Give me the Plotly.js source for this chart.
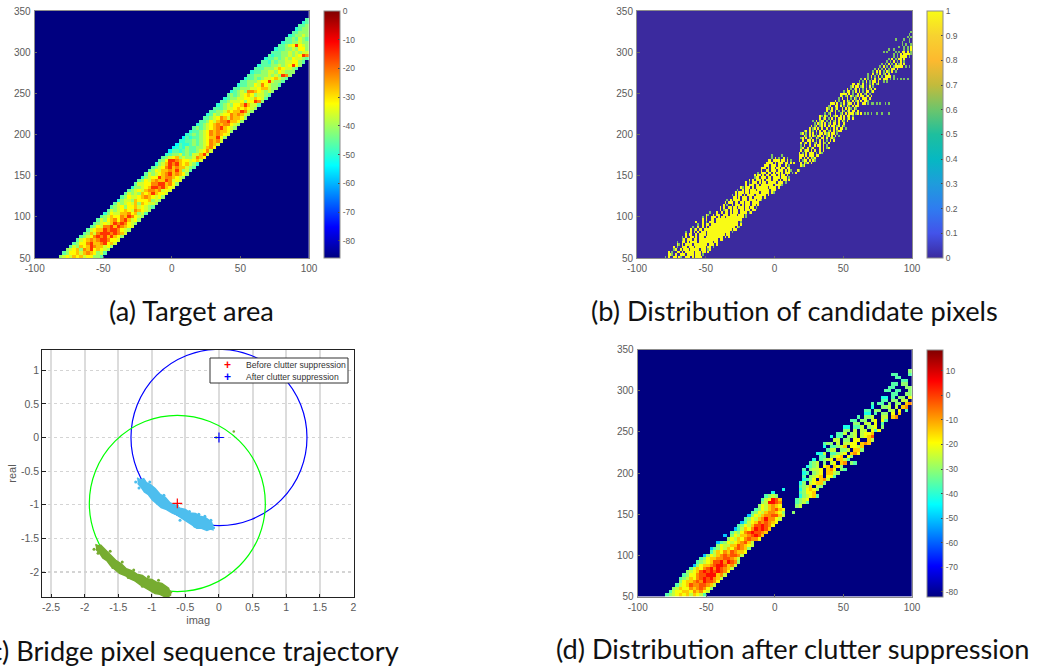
<!DOCTYPE html>
<html><head><meta charset="utf-8">
<script src="https://cdn.plot.ly/plotly-3.0.1.min.js"></script>
<style>html,body{margin:0;padding:0;background:#fff;overflow:hidden}#chart{width:1037px;height:669px}
.heatmaplayer{filter:blur(.55px)}</style>
</head><body><div id="chart"></div>
<script>
// ---------- Data ----------
// Each row: "xStart:cells" segments. Rows run upward from y=50 (4 units per row in a and d, 3 in b).
const levelsA = [-60,-54,-50,-46,-41,-36,-32,-27,-22,-15];
const rowsA = [
"-82.5:4565767566443","-80:3466757876453","-77.5:4567487967654","-75:3547679877564",
"-72.5:3466897789675","-70:3567878998665","-67.5:3456898979764","-65:3475899989875",
"-62.5:3567798998654","-60:3465889798765","-57.5:3456579898654","-55:3546786897564",
"-52.5:3457668798654","-50:2465577867453","-47.5:3545676587654","-45:3456466756543",
"-42.5:3545657476554","-40:2455476667454","-37.5:3465567876564","-35:3545476797665",
"-32.5:3456578878565","-30:2445679989765","-27.5:3556688997864","-25:3465787798565",
"-22.5:2456697887654","-20:3545678978764","-17.5:3465778797453","-15:3456897877543",
"-12.5:2457989767542","-10:3469987665675","-7.5:3456745445876","-5:2344534355795",
"-2.5:1332343345685","0:1232433445786","2.5:1322343456875","5:2233434568785",
"7.5:1323345677964","10:2343456878765","12.5:2334568787764","15:3434567897654",
"17.5:2345678788654","20:3346578897764","22.5:3345687587764","25:2354566878754",
"27.5:3344576779854","30:3334556767654","32.5:2345466797553","35:3345556466984",
"37.5:2344556657653","40:3434567645543","42.5:2345488765454","45:3344455677544",
"47.5:2334465865443","50:3344456695443","52.5:2334345567543","55:3344445454984",
"57.5:2334455465444","60:3334445765543","62.5:2333445456964","65:3324344556643",
"67.5:2334345465543","70:3233445456984","72.5:333445454553","75:23344546644",
"77.5:3345696544","80:233445444","82.5:33435434","85:2344543",
"87.5:334443","90:23443","92.5:3344","95:234","97.5:33"];
const levelsD = [-50,-42,-36,-30,-25,-20,-14,-8,-2,5];
const rowsD = [
"-80:234565646542","-77.5:245566576754","-75:346557678753","-72.5:245687788764",
"-70:356678798875","-70:2346578989764","-67.5:2355788999674","-65:3456898989875",
"-62.5:2465789798764","-60:0356678998674","-57.5:2345688979873","-55:235667788764",
"-52.5:035467878874","-50:.24657687665","-47.5:023546578763","-45:.35446687654",
"-42.5:02354567864","-37.5:.3546578775","-37.5:0.3546678986","-32.5:24357898876",
"-30:02465798986","-27.5:23546889875","-25:02456878765","-22.5:23546797754",
"-20:03546778864","-17.5:2354677653 12.5:3","-15:235467865","-12.5:3546765 15:34",
"-10:349987 15:2342","-10:245986 15:2345","-7.5:2343 17.5:134562","-2.5:1 17.5:23556",
"5:1 17.5:135653","17.5:2346.43","17.5:13.45663","20:1235.674",
"20:2.3456.552","20:12.345.6643","20:2.3445.675.32","22.5:1234.56.653",
"25:234.3.45.67.32","27.5:1.2345.6642","27.5:..22.3456.53","30:114.22345.675",
"32.5:..244.334.663","32.5:.1.22346.5546","35:233.4.4455.676","37.5:..44.33.55..64",
"40:1.22.334.4568","42.5:.224.34.4556","45:..33.4.44.525","50:11.224.345.3",
"52.5:..33.44.5.2","55:22.33.45.52","60:2.334..44.67","62.5:.11.2.33.5.6",
"65:22.33..34.5.2","67.5:.1..334.4.67.2","70:2.22.3.33.675","72.5:..22.33.44.2",
"77.5:11.2.33.54","82.5:.22..33.78","80:22.22..3.44","80:.22...33",
"85:22.33","90:.22.22","85:.22....22","85:22...22","97.5:33"];
// '#' = 1, '+' = partly covered pixel, '.' = 0
const rowsB = [
"-80:+.#..##.#+..###.#.####","-79:.##+.#..###.####.###.+","-77:#.+..##.#.#####.###.##.#","-75:.+#..#.###.#####.###.+#",
"-74:#.+..###.###.######.##.+","-72:.#+.#.####.########.###.#","-71:+..##.#.####.########.##.","-69:.+#.###.##.###########.##.",
"-68:+.#..##.#.###.##########.#.#","-66:.#.##..#.####.##########.##","-65:+..#.#.#.###.#############.+","-62:.#.+#.##.################.##",
"-60:+..#..#.#.###############.#+","-58:.+..#.##.################.#","-57:#...#.+.###.#############.+","-55:..#.#..##.###############.",
"-53:+.#..###.#.##.##########.+","-51:.#+..#.##..###.####.###.+","-47:+...#..#.##.#.###.####.+#","-42:..#.+##.#.###.##.###.##",
"-41:.#.#..##.##.###.##.##.+","-38:#.+..#.###.#.###.##.#","-37:.#.###.##.##.###.####","-35:+.#.####.###.####.##+",
"-33:..##.#.###.##.#####.#","-31:+.#.##.#.####.######.#","-30:.#.###.##.#####.#####.#+","-28:+..#.##.###.#######.###",
"-26:.#+.###.#.#######.####.#","-24:..#.###.##.#######.####+","-21:#.+.###.#.##.#####.###.+","-20:.#.#.###.#.###.###.#.##.#",
"-18:..+##.###.##.####.###.+","-16:.#.##.#.##.###.#.##.#","-13:+.###.##.#.##.#.###.+ 13:+.#","-11:.#..##.###.###.#.#+ 16:#+",
"-10:###.#.##.##.##.##","-9:.###.###.##..#.+ 19:#+#","-8:.####.#.###.##.#.# 18:.#.#+#.#","-7:..##.####.##.#.+ 17:#.+##.#.#+",
"-5:..+.#.+..#.+ 18:##.#.#.#+#.","-3:+.....+ 18:###.#.###.##",
"18:#.+.#.###.+.#+","18:.#.+##.#.#..#.#","19:+#..#.+#...#.#.+#","18:.+.#..#..#.##.#.+",
"19:#.+#.#..+#.#.#+.#","19:.#..##.#.+.#.#.+.#.#","19:+#.#.+#..#+.##.#.+#+","20:.#+.#.#+.##.#.+#.#.#.+",
"19:+#.+.#.#.+.##.#+#.##.+","21:+#.#.+.#.#.##.+#.#.+##","24:.#.+#.#.#..#.+.#.#.##.+","26:#.+#.+#.#.#.##.+#.#+",
"27:.+.#+#.#.+#.##.#..#","28:+.#.+##.+.#.+#.#.#+.#","31:.#.+#.+.#.#.##.#.+#.#","33:#+.#+.#.+##.#.#.##.+",
"35:.+.+#..#..+#.#.###.+#.#.+.+.+..+..+...+","37:#.+#.#.+.#+.+#.##.#..","36:.#+.#.+#..#.#.#+.#+","39:+#..##.#.+.#+.#.##",
"40:###.#.+.#.+##.#.#..##.+.++.+.+..+.+","43:.#.+..#.#+.#.+#.#.##+","46:+.#..#.+.#+.#.###.#","46:.#+.+#.#+.+#.##.+#.#",
"47:####.#.+..#.#.+#.+","49:.+.##.+.#.#.+.##.+#",
"52:#.+.+#.#.+.#.+#.#","54:.+#.##.+#.+.#.+","56:##.#+.#.+.+.#.+#","60:.+.+.#.+.##.#..+.+",
"63:+.#.+.+.#.+#.###.+.+.+.+.+.+","66:.+.#.+.#.+.####.+","68:+..#.+.#.+#.#","70:.+.#.#.+.#+.#.+",
"72:+.#.+.#.+.##.#","75:.+.#.+.#.+#####.+.+.+.+.+","78:+.+.#.+.#.+#.#","80:.+.+.#.+.#.+",
"83:+.#.+.##.#","85:.+.+.####.+.#","86:+.+.#.####+.+","78:.+.+....+.+.##.#.+",
"82:+..+.....+.+.#.+","89:.+..+.+.#+","92:+.+..+.+","90:..+...+.+",
"88:+....+..+","95:.+.+","98:+","99:+"];
const levelPartial = 0.62;

// Trajectory clusters: outline (imag, real)
const beforeImag = [-1.22,-1.17,-1.12,-1.08,-1.02,-0.95,-0.88,-0.80,-0.73,-0.66,-0.58,-0.50,-0.43,-0.35,-0.28,-0.20,-0.11,-0.09,-0.13,-0.18,-0.26,-0.33,-0.40,-0.48,-0.55,-0.63,-0.70,-0.78,-0.86,-0.93,-0.99,-1.05,-1.11,-1.15,-1.21];
const beforeReal = [-0.60,-0.63,-0.61,-0.67,-0.70,-0.76,-0.84,-0.89,-0.97,-1.00,-1.05,-1.07,-1.12,-1.13,-1.17,-1.19,-1.26,-1.37,-1.36,-1.38,-1.35,-1.35,-1.30,-1.25,-1.21,-1.15,-1.12,-1.07,-1.04,-0.98,-0.93,-0.85,-0.81,-0.75,-0.68];
const afterImag = [-1.84,-1.79,-1.76,-1.71,-1.66,-1.60,-1.53,-1.45,-1.38,-1.30,-1.22,-1.14,-1.07,-1.00,-0.93,-0.85,-0.75,-0.72,-0.76,-0.80,-0.88,-0.95,-1.02,-1.10,-1.17,-1.25,-1.32,-1.40,-1.48,-1.55,-1.61,-1.67,-1.73,-1.77,-1.83];
const afterReal = [-1.59,-1.61,-1.60,-1.65,-1.70,-1.75,-1.83,-1.88,-1.95,-1.98,-2.03,-2.05,-2.10,-2.11,-2.15,-2.17,-2.24,-2.34,-2.37,-2.37,-2.33,-2.32,-2.28,-2.23,-2.19,-2.13,-2.10,-2.05,-2.02,-1.96,-1.91,-1.83,-1.79,-1.73,-1.66];
const beforeFuzzImag = [-1.24,-1.19,-1.03,-0.82,-0.62,-0.44,-0.30,-0.21,-0.10,-0.12,-0.08,-0.36,-0.58];
const beforeFuzzReal = [-0.66,-0.75,-0.66,-0.86,-1.01,-1.10,-1.14,-1.17,-1.30,-1.23,-1.34,-1.32,-1.23];
const afterFuzzImag = [-1.86,-1.80,-1.62,-1.44,-1.27,-1.05,-0.90,-0.92,-0.74,-0.72,-1.14,-1.35,-1.58];
const afterFuzzReal = [-1.66,-1.72,-1.69,-1.85,-1.97,-2.07,-2.12,-2.28,-2.28,-2.30,-2.21,-2.08,-1.93];
const strayImag = [0.22,-0.04];
const strayReal = [0.09,0.00];
const beforeCentre = {imag:[-0.62], real:[-0.98]};
const afterCentre = {imag:[0.0], real:[0.0]};
const seriesNames = ["Before clutter suppression","After clutter suppression"];
const seriesColors = ["#ff0000","#0000ff"];

// Tick labels
const mapXTicks = [-100,-50,0,50,100];
const mapYTicks = [50,100,150,200,250,300,350];
const cbarATicks = [0,-10,-20,-30,-40,-50,-60,-70,-80];
const cbarBTicks = [0,0.1,0.2,0.3,0.4,0.5,0.6,0.7,0.8,0.9,1];
const cbarDTicks = [10,0,-10,-20,-30,-40,-50,-60,-70,-80];
const trajXTicks = [-2.5,-2,-1.5,-1,-0.5,0,0.5,1,1.5,2];
const trajYTicks = [-2,-1.5,-1,-0.5,0,0.5,1];
const captions = ["(a) Target area","(b) Distribution of candidate pixels","(c) Bridge pixel sequence trajectory","(d) Distribution after clutter suppression"];

// ---------- Page geometry ----------
const W=1037,H=669;
const dx=(a,b)=>[a/W,b/W], dy=(t,b)=>[1-b/H,1-t/H];
const txt=v=>String(v);
const GREY='#5a5a5a', FRAME='#8c8c8c';
const FONT='"Liberation Sans", Arial, sans-serif';

function grid(rows,dX,dY,decode,bg){
  const nx=Math.round(200/dX), ny=Math.round(300/dY);
  const z=[];for(let j=0;j<ny;j++)z.push(new Array(nx).fill(bg));
  rows.forEach((row,j)=>{
    row.split(' ').forEach(seg=>{
      const [xs,cells]=seg.split(':');
      const c0=Math.round((parseFloat(xs)+100)/dX);
      for(let k=0;k<cells.length;k++){
        const v=decode(cells[k]);
        if(v!==null&&c0+k<nx&&c0+k>=0)z[j][c0+k]=v;
      }
    });
  });
  const xs=[];for(let i=0;i<nx;i++)xs.push(-100+dX*(i+.5));
  const ys=[];for(let j=0;j<ny;j++)ys.push(50+dY*(j+.5));
  return {x:xs,y:ys,z};
}
const jet=[[0,'#000080'],[.125,'#0000ff'],[.375,'#00ffff'],[.625,'#ffff00'],[.875,'#ff0000'],[1,'#800000']];
const parula=[[0,'#3b2a9e'],[.1,'#4353ea'],[.2,'#2f7cf0'],[.3,'#1f9cdc'],[.4,'#06b8c2'],[.5,'#1ebf9e'],[.6,'#6cc56c'],[.7,'#c2bb3c'],[.8,'#fdb92f'],[.9,'#f7d230'],[1,'#f9fb15']];
function cbar(x0,t,b,vals){
  return {x:x0/W,xanchor:'left',y:1-b/H,yanchor:'bottom',len:(b-t)/H,lenmode:'fraction',thickness:16,thicknessmode:'pixels',
    xpad:0,ypad:0,outlinecolor:FRAME,outlinewidth:1,ticks:'inside',ticklen:2,tickcolor:'#444',tickwidth:1,
    tickvals:vals,ticktext:vals.map(txt),tickfont:{family:FONT,size:8.5,color:GREY}};
}
function hm(g,axn,min,max,scale,cb){
  return Object.assign({type:'heatmap',xaxis:'x'+axn,yaxis:'y'+axn,zmin:min,zmax:max,colorscale:scale,colorbar:cb,hoverinfo:'skip',zsmooth:false},g);
}
const digit=l=>c=>c==='.'?null:l[+c];
const fuzz=(x,y,c)=>({type:'scatter',x,y,xaxis:'x3',yaxis:'y3',mode:'markers',marker:{color:c,size:3},showlegend:false,hoverinfo:'skip'});
const traces=[
 hm(grid(rowsA,2.5,4,digit(levelsA),-86),'',-86,0,jet,cbar(324,11,258,cbarATicks)),
 hm(grid(rowsB,1.25,3,c=>c==='#'?1:c==='+'?levelPartial:null,0),'2',0,1,parula,cbar(927,11,258,cbarBTicks)),
 hm(grid(rowsD,2.5,4,digit(levelsD),-82),'4',-82,18.6,jet,cbar(927,349.5,596.7,cbarDTicks)),
 {type:'scatter',x:beforeImag,y:beforeReal,xaxis:'x3',yaxis:'y3',mode:'lines',fill:'toself',fillcolor:'#4dbeee',line:{color:'#4dbeee',width:1.5},showlegend:false,hoverinfo:'skip'},
 {type:'scatter',x:afterImag,y:afterReal,xaxis:'x3',yaxis:'y3',mode:'lines',fill:'toself',fillcolor:'#77ac30',line:{color:'#77ac30',width:1.5},showlegend:false,hoverinfo:'skip'},
 fuzz(beforeFuzzImag,beforeFuzzReal,'#4dbeee'),
 fuzz(afterFuzzImag,afterFuzzReal,'#77ac30'),
 {type:'scatter',x:strayImag,y:strayReal,xaxis:'x3',yaxis:'y3',mode:'markers',marker:{color:'#77ac30',size:2.5},showlegend:false,hoverinfo:'skip'},
 {type:'scatter',name:seriesNames[0],x:beforeCentre.imag,y:beforeCentre.real,xaxis:'x3',yaxis:'y3',mode:'markers',marker:{symbol:'cross-thin',size:7,line:{color:seriesColors[0],width:1.2}},showlegend:false,hoverinfo:'skip'},
 {type:'scatter',name:seriesNames[1],x:afterCentre.imag,y:afterCentre.real,xaxis:'x3',yaxis:'y3',mode:'markers',marker:{symbol:'cross-thin',size:7,line:{color:seriesColors[1],width:1.2}},showlegend:false,hoverinfo:'skip'}
];
function mapAxes(xd,yd,an){
  const common={ticks:'inside',ticklen:2.5,tickcolor:'#666',tickwidth:1,showline:true,linecolor:FRAME,linewidth:1,mirror:true,showgrid:false,zeroline:false,
    tickfont:{family:FONT,size:10,color:GREY}};
  return [Object.assign({},common,{domain:xd,range:[-100,100],anchor:'y'+an,tickvals:mapXTicks,ticktext:mapXTicks.map(txt),ticklabelstandoff:1}),
          Object.assign({},common,{domain:yd,range:[50,350],anchor:'x'+an,tickvals:mapYTicks,ticktext:mapYTicks.map(txt),ticklabelstandoff:1})];
}
const [xa1,ya1]=mapAxes(dx(34.7,309),dy(11,258),'');
const [xa2,ya2]=mapAxes(dx(637,912),dy(11,258),'2');
const [xa4,ya4]=mapAxes(dx(637.7,912),dy(349.5,596.7),'4');
const trajCommon={ticks:'inside',ticklen:3.5,tickcolor:'#222',tickwidth:1,showline:true,linecolor:'#222',linewidth:1.2,mirror:true,zeroline:false,showgrid:true,
  tickfont:{family:FONT,size:10.5,color:GREY}};
const xa3=Object.assign({},trajCommon,{domain:dx(42.3,354),range:[-2.63,2.01],anchor:'y3',tickvals:trajXTicks,ticktext:trajXTicks.map(txt),gridcolor:'#dcdcdc',gridwidth:2,
  title:{text:'imag',font:{family:FONT,size:11,color:GREY},standoff:4}});
const ya3=Object.assign({},trajCommon,{domain:dy(350,597),range:[-2.37,1.30],anchor:'x3',tickvals:trajYTicks,ticktext:trajYTicks.map(txt),gridcolor:'#d4d4d4',gridwidth:1.2,griddash:'dot',
  title:{text:'real',font:{family:FONT,size:11,color:GREY},standoff:2}});
const circle=(cx,cy,r,c)=>({type:'circle',xref:'x3',yref:'y3',x0:cx-r,x1:cx+r,y0:cy-r,y1:cy+r,line:{color:c,width:1.2},layer:'between'});
const capFont={family:'Lato, "Open Sans", sans-serif',size:27.2,color:'#111'};
const cap=(t,x,y,a)=>({text:t,xref:'paper',yref:'paper',x:x/W,y:1-y/H,xanchor:a,yanchor:'middle',showarrow:false,font:capFont});
const legText=(t,y)=>({text:t,xref:'paper',yref:'paper',x:244/W,y:1-y/H,xanchor:'left',yanchor:'middle',showarrow:false,font:{family:FONT,size:8.6,color:'#333'}});
const legMark=(c,y)=>({text:'<b>+</b>',xref:'paper',yref:'paper',x:227/W,y:1-y/H,xanchor:'center',yanchor:'middle',showarrow:false,font:{family:FONT,size:12,color:c}});
const layout={
  width:W,height:H,margin:{l:0,r:0,t:0,b:0},paper_bgcolor:'#fff',plot_bgcolor:'#fff',font:{family:FONT},showlegend:false,
  xaxis:xa1,yaxis:ya1,xaxis2:xa2,yaxis2:ya2,xaxis3:xa3,yaxis3:ya3,xaxis4:xa4,yaxis4:ya4,
  shapes:[circle(0,0,1.31,'#0000ff'),circle(-0.62,-0.98,1.31,'#00ff00'),
    {type:'rect',xref:'paper',yref:'paper',x0:210/W,x1:348/W,y0:1-383/H,y1:1-358/H,fillcolor:'#fff',line:{color:'#333',width:1},layer:'above'}],
  annotations:[cap(captions[0],191,311,'center'),cap(captions[1],794,311,'center'),cap(captions[2],401,650,'right'),cap(captions[3],792.5,648,'center'),
    legMark(seriesColors[0],364.5),legMark(seriesColors[1],376.5),legText(seriesNames[0],365),legText(seriesNames[1],376.7)]
};
Plotly.newPlot('chart',traces,layout,{staticPlot:true,displayModeBar:false});
</script></body></html>
